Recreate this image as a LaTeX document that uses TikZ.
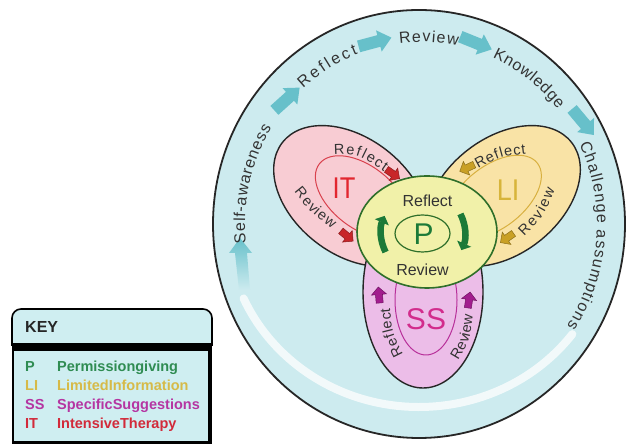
\documentclass[tikz,border=0pt]{standalone}
\usepackage{fontspec}
\setmainfont{Liberation Sans}
\usetikzlibrary{decorations.text,arrows.meta}
\definecolor{bgcyan}{HTML}{CDEBEF}
\definecolor{arrcyan}{HTML}{67C0CA}
\definecolor{itfill}{HTML}{F8CCD3}
\definecolor{lifill}{HTML}{F9E3A6}
\definecolor{ssfill}{HTML}{ECBDE8}
\definecolor{pfill}{HTML}{F1F1A9}
\definecolor{itred}{HTML}{E2262F}
\definecolor{itarr}{HTML}{C8262A}
\definecolor{itring}{HTML}{D9424E}
\definecolor{ligold}{HTML}{D7B43A}
\definecolor{liarr}{HTML}{C9A025}
\definecolor{liring}{HTML}{D8B040}
\definecolor{ssmag}{HTML}{D22C8C}
\definecolor{ssarr}{HTML}{A21D8E}
\definecolor{ssring}{HTML}{B8309A}
\definecolor{pgreen}{HTML}{1C7A38}
\definecolor{poutline}{HTML}{2F6F2A}
\definecolor{txtgray}{HTML}{333333}
\definecolor{keyfill}{HTML}{CFEEF1}
\definecolor{keyP}{HTML}{2F8C52}
\definecolor{keyLI}{HTML}{D6BA48}
\definecolor{keySS}{HTML}{B535A2}
\definecolor{keyIT}{HTML}{D22A3A}
\newcommand\outerfmt{\fontsize{16}{18}\selectfont\color{txtgray}}
\newcommand\petalfmt{\fontsize{14.5}{17}\selectfont\color{txtgray}}
\tikzset{
  petal/.style={draw=black!85, line width=1.4pt},
  innerring/.style={line width=1pt},
  bigletter/.style={font=\fontsize{30}{30}\selectfont, inner sep=0pt},
  ptext/.style={font=\fontsize{16}{16}\selectfont, text=txtgray, inner sep=0pt},
  keyrow/.style={font=\bfseries\fontsize{14.5}{14.5}\selectfont, anchor=base west, inner sep=0pt},
  garrow/.style={pgreen, line width=6.5pt, -{Triangle[length=7pt,width=15pt]}},
  barrow/.pic={\fill[#1] (-17,-6) -- (4,-6) -- (4,-11) -- (17,0) -- (4,11) -- (4,6) -- (-17,6) -- cycle;},
  sarrow/.pic={\filldraw[#1, line width=0.5pt] (-8,-3.5) -- (0.5,-3.5) -- (0.5,-7.5) -- (8,0) -- (0.5,7.5) -- (0.5,3.5) -- (-8,3.5) -- cycle;},
}
\begin{document}
\begin{tikzpicture}[x=1pt,y=1pt]
\useasboundingbox (0,0) rectangle (628,446);
\fill[white] (0,0) rectangle (628,446);
% big circle
\filldraw[fill=bgcyan, draw=black!85, line width=1.8pt] (419,222) ellipse[x radius=206, y radius=214];
% pale return band
\draw[white, opacity=0.75, line width=8pt, line cap=round, shift={(419,222)}] (-37:192 and 183) arc[start angle=-37, end angle=-156, x radius=192, y radius=183];
\shade[top color=arrcyan, bottom color=bgcyan] (240,208) -- (252,193) -- (247,193) -- (250,156) -- (239,156) -- (235,193) -- (229,193) -- cycle;
% outer arrows
\pic[rotate=42] at (287,347) {barrow=arrcyan};
\pic[rotate=15] at (375,404) {barrow=arrcyan};
\pic[rotate=-22] at (476,403) {barrow=arrcyan};
\pic[rotate=-50] at (583,324) {barrow=arrcyan};
% outer texts
\path[shift={(421,222)}, decorate, decoration={text along path, text align={fit to path}, text={|\outerfmt|Self-awareness}}] (186:176 and 182) arc[start angle=186, end angle=148, x radius=176, y radius=182];
\path[shift={(421,222)}, decorate, decoration={text along path, text align={fit to path}, text={|\outerfmt|Reflect}}] (132:176 and 182) arc[start angle=132, end angle=111, x radius=176, y radius=182];
\path[shift={(421,222)}, decorate, decoration={text along path, text align={fit to path}, text={|\outerfmt|Review}}] (97:176 and 182) arc[start angle=97, end angle=78, x radius=176, y radius=182];
\path[shift={(421,222)}, decorate, decoration={text along path, text align={fit to path}, text={|\outerfmt|Knowledge}}] (66:176 and 182) arc[start angle=66, end angle=39, x radius=176, y radius=182];
\path[shift={(421,222)}, decorate, decoration={text along path, text align={fit to path}, text={|\outerfmt|Challenge assumptions}}] (26:176 and 182) arc[start angle=26, end angle=-34, x radius=176, y radius=182];
% petals
\filldraw[petal, fill=itfill, rotate around={-38:(351,250)}] (351,250) ellipse[x radius=87, y radius=58];
\draw[innerring, draw=itring, rotate around={-38:(362,249)}] (362,249) ellipse[x radius=54, y radius=31];
\filldraw[petal, fill=lifill, rotate around={38:(503,250)}] (503,250) ellipse[x radius=87, y radius=58];
\draw[innerring, draw=liring, rotate around={38:(494,249)}] (494,249) ellipse[x radius=55, y radius=31];
\filldraw[petal, fill=ssfill] (423,154) ellipse[x radius=60, y radius=96];
\draw[innerring, draw=ssring] (426,146) ellipse[x radius=31, y radius=55];
\filldraw[fill=pfill, draw=poutline, line width=1.6pt] (427,214) ellipse[x radius=70, y radius=56];
\draw[draw=poutline, line width=1.2pt] (422.5,212.5) ellipse[x radius=27.5, y radius=18.5];
% big letters
\node[bigletter, text=itred, xscale=0.85] (itl) at (344,258) {IT};
\node[bigletter, text=ligold, xscale=0.9] (lil) at (508,256) {LI};
\node[bigletter, text=ssmag] (ssl) at (426,127) {SS};
\node[bigletter, text=pgreen] (pl) at (423.5,211.5) {P};
% P texts and arrows
\node[ptext] (prefl) at (427.5,245.5) {Reflect};
\node[ptext] (prev) at (422.5,176) {Review};
\draw[garrow, shift={(423,213)}] (207:42) arc[start angle=207, end angle=156, radius=42];
\draw[garrow, shift={(423,213)}] (27:42) arc[start angle=27, end angle=-24, radius=42];
% petal texts
\path[decorate, decoration={text along path, text align={fit to path}, text={|\petalfmt|Reflect}}] (334,291) .. controls (358,292) .. (384,274);
\path[decorate, decoration={text along path, text align={fit to path}, text={|\petalfmt|Review}}] (294,254) .. controls (311,233) .. (332,217);
\path[decorate, decoration={text along path, text align={fit to path}, text={|\petalfmt|Reflect}}] (478,277) .. controls (500,289) .. (526,292);
\path[decorate, decoration={text along path, text align={fit to path}, text={|\petalfmt|Review}}] (524,210) .. controls (544,230) .. (555,256);
\path[decorate, decoration={text along path, text align={fit to path}, text={|\petalfmt|Reflect}}] (403,92) .. controls (392,114) .. (390,138);
\path[decorate, decoration={text along path, text align={fit to path}, text={|\petalfmt|Review}}] (458,86) .. controls (470,106) .. (473,130);
% small arrows
\pic[rotate=-35] at (393,272) {sarrow={fill=itarr, draw=itarr!70!black}};
\pic[rotate=-40] at (347,210) {sarrow={fill=itarr, draw=itarr!70!black}};
\pic[rotate=205] at (467,278) {sarrow={fill=liarr, draw=liarr!70!black}};
\pic[rotate=215] at (507,208) {sarrow={fill=liarr, draw=liarr!70!black}};
\pic[rotate=95] at (379,151) {sarrow={fill=ssarr, draw=ssarr!70!black}};
\pic[rotate=82] at (469,146) {sarrow={fill=ssarr, draw=ssarr!70!black}};
% key box
\fill[keyfill] (13,3) rectangle (211,100);
\draw[black, line width=1.5pt] (13,100) -- (13,3);
\draw[black, line width=3pt] (12,3) -- (212,3);
\draw[black, line width=4pt] (210,2) -- (210,100);
\filldraw[fill=keyfill, draw=black, line width=1.6pt, rounded corners=9pt] (12,100) -- (12,137) -- (212,137) -- (212,100);
\fill[black] (12,95) rectangle (212,103);
\node[anchor=base west, font=\bfseries\fontsize{16}{16}\selectfont, text=black!85, inner sep=0pt] (keyt) at (25,113) {KEY};
\node[keyrow, text=keyP] (kp) at (25,74) {P};
\node[keyrow, text=keyP] (kpn) at (57,74) {Permissiongiving};
\node[keyrow, text=keyLI] (kli) at (25,55) {LI};
\node[keyrow, text=keyLI] (klin) at (57,55) {LimitedInformation};
\node[keyrow, text=keySS] (kss) at (25,36) {SS};
\node[keyrow, text=keySS] (kssn) at (57,36) {SpecificSuggestions};
\node[keyrow, text=keyIT] (kit) at (25,17) {IT};
\node[keyrow, text=keyIT] (kitn) at (57,17) {IntensiveTherapy};
\end{tikzpicture}
\end{document}
